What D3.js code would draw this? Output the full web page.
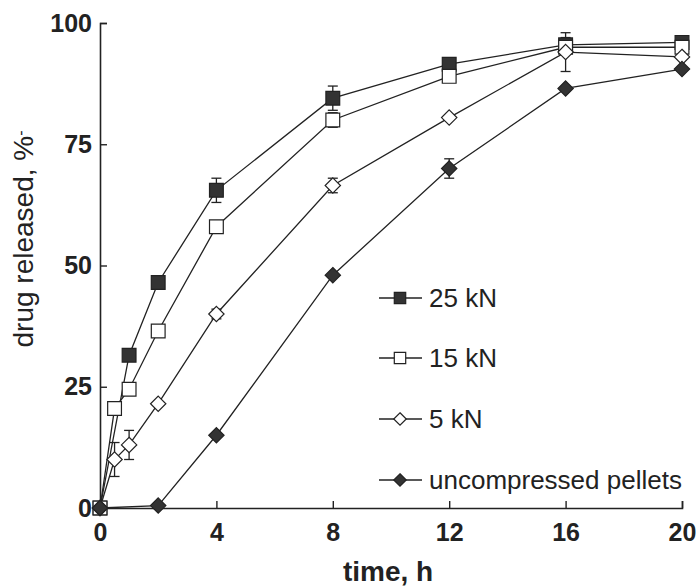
<!DOCTYPE html>
<html>
<head>
<meta charset="utf-8">
<script src="https://cdn.jsdelivr.net/npm/d3@7"></script>
<style>
  body { margin: 0; background: #fff; }
  text { font-family: Arial, "Liberation Sans", sans-serif; fill: #222; }
</style>
</head>
<body>
<div id="chart"></div>
<script>
// release data
var times25 = [0, 1, 2, 4, 8, 12, 16, 20];
var vals25 = [0, 31.5, 46.5, 65.5, 84.5, 91.5, 95.5, 96];
var err25 = [0, 0, 0, 2.5, 2.5, 0, 1.5, 0];

var times15 = [0, 0.5, 1, 2, 4, 8, 12, 16, 20];
var vals15 = [0, 20.5, 24.5, 36.5, 58, 80, 89, 95, 95];
var err15 = [0, 0, 0, 0, 0, 1.5, 0, 0, 0];

var times5 = [0, 0.5, 1, 2, 4, 8, 12, 16, 20];
var vals5 = [0, 10, 13, 21.5, 40, 66.5, 80.5, 94, 93];
var err5 = [0, 3.5, 3, 0, 1, 1.5, 0, 4, 0];

var timesU = [0, 2, 4, 8, 12, 16, 20];
var valsU = [0, 0.5, 15, 48, 70, 86.5, 90.5];
var errU = [0, 0, 0, 0, 2, 0, 0];

var seriesNames = ["25 kN", "15 kN", "5 kN", "uncompressed pellets"];
var xTicks = [0, 4, 8, 12, 16, 20];
var yTicks = [0, 25, 50, 75, 100];

function pack(t, v, e) {
  return t.map(function(d, i) { return {t: d, v: v[i], e: e[i]}; });
}

var series = [
  {name: seriesNames[0], shape: "square", fill: "#333", pts: pack(times25, vals25, err25)},
  {name: seriesNames[1], shape: "square", fill: "#fff", pts: pack(times15, vals15, err15)},
  {name: seriesNames[2], shape: "diamond", fill: "#fff", pts: pack(times5, vals5, err5)},
  {name: seriesNames[3], shape: "diamond", fill: "#333", pts: pack(timesU, valsU, errU)}
];

var width = 696, height = 587;
var x = d3.scaleLinear().domain([0, 20]).range([100, 682]);
var y = d3.scaleLinear().domain([0, 100]).range([508, 23]);

var svg = d3.select("#chart").append("svg")
  .attr("width", width)
  .attr("height", height);

// axes, ticks pointing inwards
var xAxis = svg.append("g")
  .attr("transform", "translate(0," + y(0) + ")")
  .call(d3.axisBottom(x).tickValues(xTicks).tickSizeInner(-7).tickSizeOuter(-7).tickPadding(15));
var yAxis = svg.append("g")
  .attr("transform", "translate(" + x(0) + ",0)")
  .call(d3.axisLeft(y).tickValues(yTicks).tickSizeInner(-7).tickSizeOuter(-7).tickPadding(8));

[xAxis, yAxis].forEach(function(a) {
  a.select(".domain").attr("stroke", "#222").attr("stroke-width", 1.6);
  a.selectAll(".tick line").attr("stroke", "#222").attr("stroke-width", 1.4);
  a.selectAll(".tick text")
    .style("font-size", "25px")
    .style("font-weight", "bold")
    .attr("fill", "#222");
});

var line = d3.line()
  .x(function(d) { return x(d.t); })
  .y(function(d) { return y(d.v); });

var symSquare = d3.symbol().type(d3.symbolSquare);
var symDiamond = d3.symbol().type(d3.symbolDiamond2);

function shapePath(s, size) {
  return s.shape == "square" ? symSquare.size(size)() : symDiamond.size(size)();
}

series.forEach(function(s) {
  svg.append("path")
    .datum(s.pts)
    .attr("d", line)
    .attr("fill", "none")
    .attr("stroke", "#222")
    .attr("stroke-width", 1.3);
});

series.forEach(function(s) {
  var eb = svg.append("g").selectAll("g")
    .data(s.pts.filter(function(d) { return d.e > 0; }))
    .enter().append("g")
    .attr("stroke", "#222")
    .attr("stroke-width", 1.3);
  eb.append("line")
    .attr("x1", function(d) { return x(d.t); })
    .attr("x2", function(d) { return x(d.t); })
    .attr("y1", function(d) { return y(d.v - d.e); })
    .attr("y2", function(d) { return y(d.v + d.e); });
  [-1, 1].forEach(function(sign) {
    eb.append("line")
      .attr("x1", function(d) { return x(d.t) - 5; })
      .attr("x2", function(d) { return x(d.t) + 5; })
      .attr("y1", function(d) { return y(d.v + sign * d.e); })
      .attr("y2", function(d) { return y(d.v + sign * d.e); });
  });
});

series.forEach(function(s) {
  svg.append("g").selectAll("path")
    .data(s.pts)
    .enter().append("path")
    .attr("transform", function(d) { return "translate(" + x(d.t) + "," + y(d.v) + ")"; })
    .attr("d", shapePath(s, s.shape == "square" ? 190 : 150))
    .attr("fill", s.fill)
    .attr("stroke", "#222")
    .attr("stroke-width", 1.2);
});

// legend
var legendY = [298, 358, 419, 480];
var leg = svg.append("g").selectAll("g")
  .data(series)
  .enter().append("g")
  .attr("transform", function(d, i) { return "translate(379," + legendY[i] + ")"; });
leg.append("line")
  .attr("x1", 0).attr("x2", 43)
  .attr("stroke", "#222").attr("stroke-width", 1.3);
leg.append("path")
  .attr("transform", "translate(21,0)")
  .attr("d", function(d) { return shapePath(d, d.shape == "square" ? 130 : 100); })
  .attr("fill", function(d) { return d.fill; })
  .attr("stroke", "#222")
  .attr("stroke-width", 1.2);
leg.append("text")
  .attr("x", 50)
  .attr("dy", "0.36em")
  .style("font-size", "26px")
  .text(function(d) { return d.name; });

// axis titles
svg.append("text")
  .attr("x", 388)
  .attr("y", 581)
  .attr("text-anchor", "middle")
  .style("font-size", "28px")
  .style("font-weight", "bold")
  .text("time, h");

var yt = svg.append("text")
  .attr("transform", "translate(33,239) rotate(-90)")
  .attr("text-anchor", "middle")
  .style("font-size", "28px");
yt.append("tspan").text("drug released, %");
yt.append("tspan").attr("dy", "-0.45em").style("font-size", "16px").text("-");
</script>
</body>
</html>
